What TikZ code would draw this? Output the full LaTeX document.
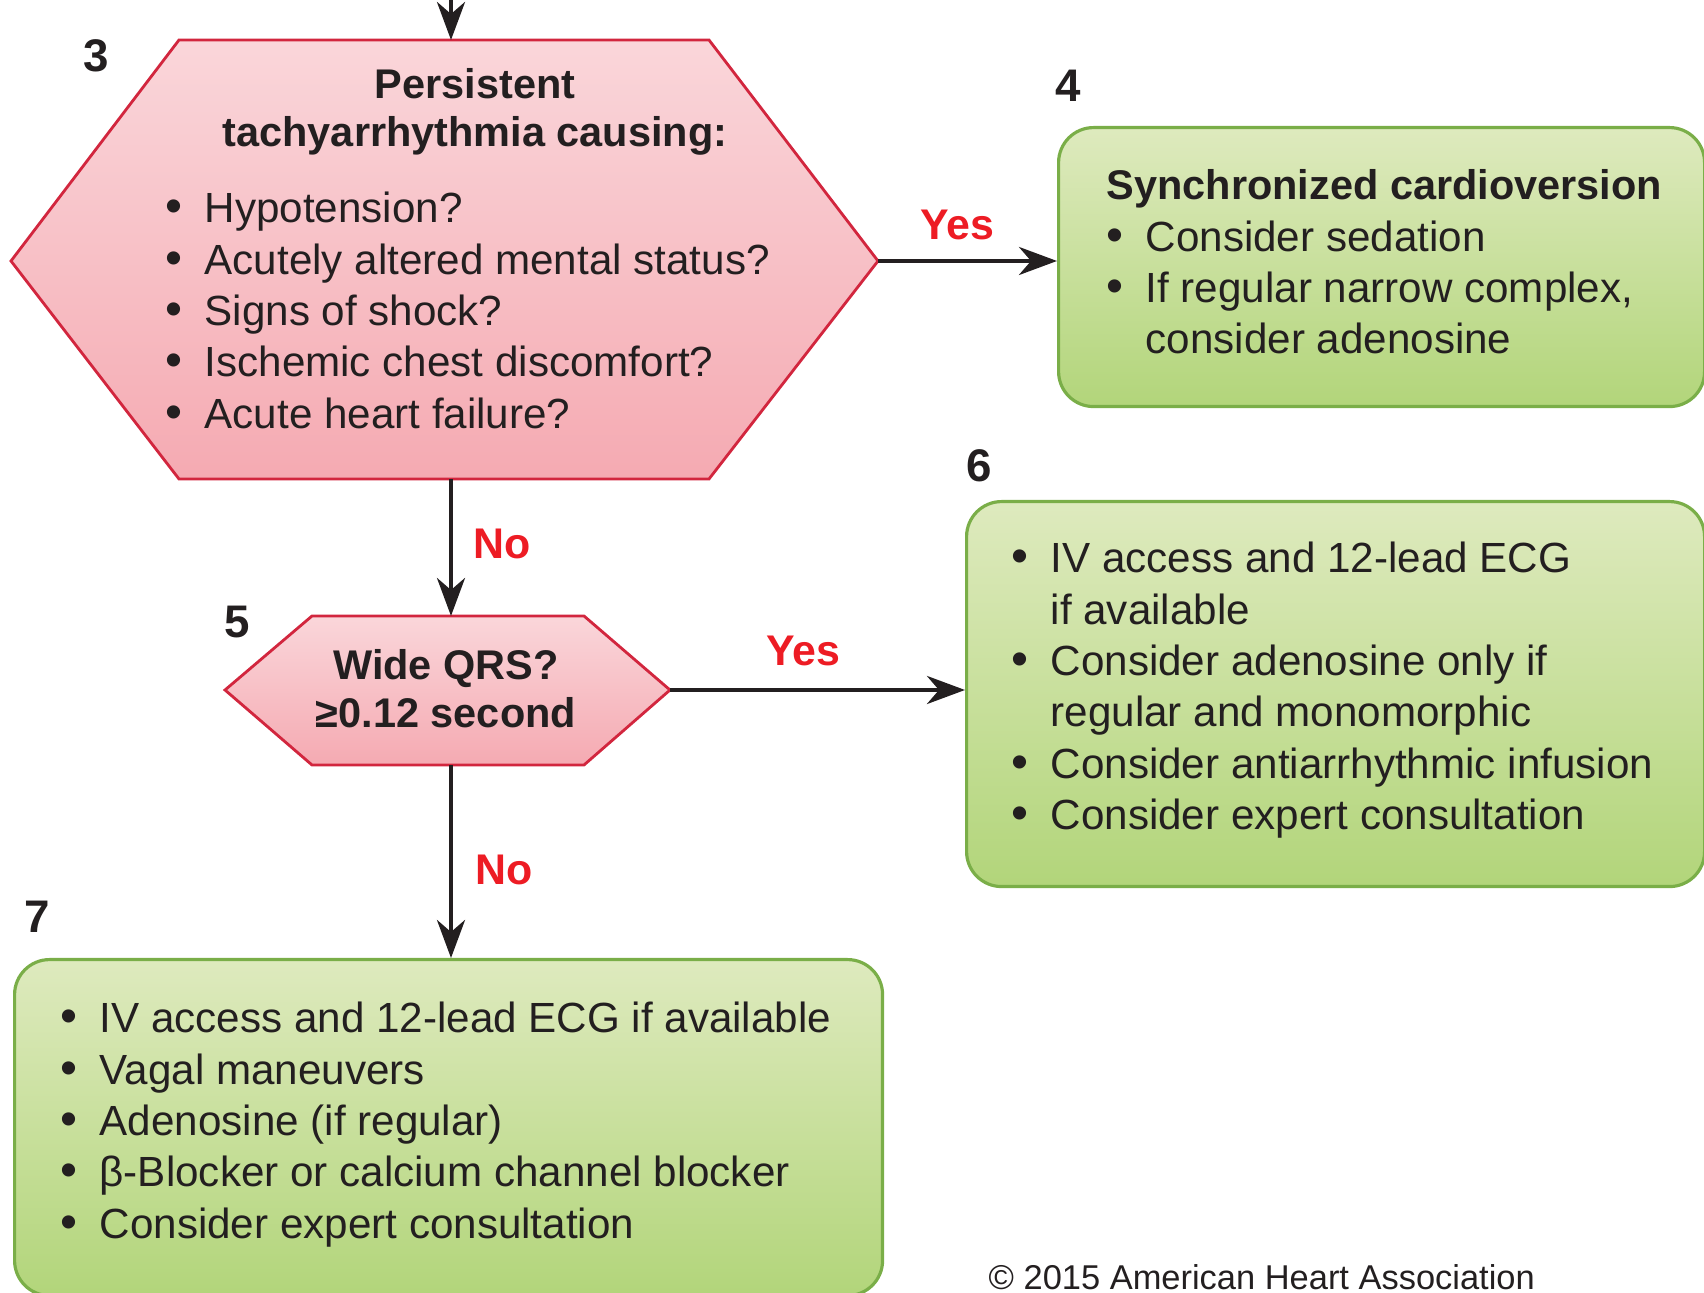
\documentclass[tikz,border=0pt]{standalone}
\usepackage{fontspec}
\setmainfont{Liberation Sans}
\usetikzlibrary{arrows.meta}
\definecolor{hexred}{RGB}{210,38,62}
\definecolor{hextop}{RGB}{250,214,218}
\definecolor{hexbot}{RGB}{245,170,178}
\definecolor{boxline}{RGB}{122,174,72}
\definecolor{boxtop}{RGB}{222,234,190}
\definecolor{boxbot}{RGB}{178,213,122}
\definecolor{ansred}{RGB}{237,28,36}
\definecolor{ink}{RGB}{35,31,32}
\newcommand{\itm}{\makebox[3.9mm][l]{\scalebox{1.15}{\textbullet}}}
\newcommand{\cnt}{\hspace*{3.9mm}}
\begin{document}
\begin{tikzpicture}[x=0.1mm,y=-0.1mm,
  hexa/.style={draw=hexred,line width=0.8pt,top color=hextop,bottom color=hexbot},
  greenbox/.style={draw=boxline,line width=0.9pt,rounded corners=3.5mm,top color=boxtop,bottom color=boxbot,anchor=north west,inner sep=0pt},
  flow/.style={ink,line width=1.25pt,-{Stealth[length=3.8mm,width=2.8mm,inset=1.2mm]}},
  ans/.style={ansred,font=\fontsize{12.2}{14}\selectfont\bfseries,anchor=base west,inner sep=0pt},
  stepnum/.style={ink,font=\fontsize{13}{15}\selectfont\bfseries,anchor=base,inner sep=0pt},
  hexttl/.style={ink,font=\fontsize{11.8}{13.6}\selectfont\bfseries,anchor=base,inner sep=0pt},
  txt/.style={ink,anchor=base west,inner sep=0pt,font=\fontsize{12}{14.6}\selectfont}]
  \clip (0,0) rectangle (1704,1293);

  % step 3
  \path[hexa] (179,40) -- (709,40) -- (878,261) -- (709,479) -- (179,479) -- (11,261) -- cycle;
  \coordinate (top) at (451,-10);
  \coordinate (q3n) at (451,40);
  \coordinate (q3e) at (878,261);
  \coordinate (q3s) at (451,479);
  \node[stepnum] (n3) at (96,72) {3};
  \node[hexttl] (h3) at (475,99) {\begin{tabular}[t]{@{}c@{}}Persistent\\tachyarrhythmia causing:\end{tabular}};
  \node[txt] (t3) at (165,223) {\begin{tabular}[t]{@{}l@{}}
    \itm Hypotension?\\
    \itm Acutely altered mental status?\\
    \itm Signs of shock?\\
    \itm Ischemic chest discomfort?\\
    \itm Acute heart failure?\end{tabular}};

  % step 4
  \node[greenbox,minimum width=64.6mm,minimum height=27.9mm] (b4) at (1057,126) {};
  \node[stepnum] (n4) at (1068,102) {4};
  \node[txt] (t4) at (1106,200) {\begin{tabular}[t]{@{}l@{}}
    \fontsize{11.8}{14.6}\selectfont\bfseries Synchronized cardioversion\\
    \itm Consider sedation\\
    \itm If regular narrow complex,\\
    \cnt consider adenosine\end{tabular}};

  % step 5
  \path[hexa] (312,616) -- (584,616) -- (670,690) -- (584,765) -- (312,765) -- (225,690) -- cycle;
  \coordinate (q5n) at (451,616);
  \coordinate (q5e) at (670,690);
  \coordinate (q5s) at (451,765);
  \node[stepnum] (n5) at (237,638) {5};
  \node[hexttl] (h5) at (446,680) {\begin{tabular}[t]{@{}c@{}}Wide QRS?\\≥0.12 second\end{tabular}};

  % step 6
  \node[greenbox,minimum width=73.8mm,minimum height=38.5mm] (b6) at (965,500) {};
  \node[stepnum] (n6) at (979,482) {6};
  \node[txt] (t6) at (1011,573) {\begin{tabular}[t]{@{}l@{}}
    \itm IV access and 12-lead ECG\\
    \cnt if available\\
    \itm Consider adenosine only if\\
    \cnt regular and monomorphic\\
    \itm Consider antiarrhythmic infusion\\
    \itm Consider expert consultation\end{tabular}};

  % step 7
  \node[greenbox,minimum width=86.8mm,minimum height=33.6mm] (b7) at (13,958) {};
  \node[stepnum] (n7) at (37,933) {7};
  \node[txt] (t7) at (60,1033) {\begin{tabular}[t]{@{}l@{}}
    \itm IV access and 12-lead ECG if available\\
    \itm Vagal maneuvers\\
    \itm Adenosine (if regular)\\
    \itm β-Blocker or calcium channel blocker\\
    \itm Consider expert consultation\end{tabular}};

  % connectors
  \draw[flow] (top) -- (q3n);
  \draw[flow] (q3e) -- (q3e -| b4.west);
  \draw[flow] (q3s) -- (q5n);
  \draw[flow] (q5e) -- (q5e -| b6.west);
  \draw[flow] (q5s) -- (q5s |- b7.north);
  \node[ans] (y34) at (920,240) {Yes};
  \node[ans] (n35) at (473,559) {No};
  \node[ans] (y56) at (766,666) {Yes};
  \node[ans] (n57) at (475,885) {No};

  \node[ink,anchor=base west,inner sep=0pt,font=\fontsize{9.8}{12}\selectfont] (aha) at (988,1290) {\textcopyright{} 2015 American Heart Association};
\end{tikzpicture}
\end{document}
